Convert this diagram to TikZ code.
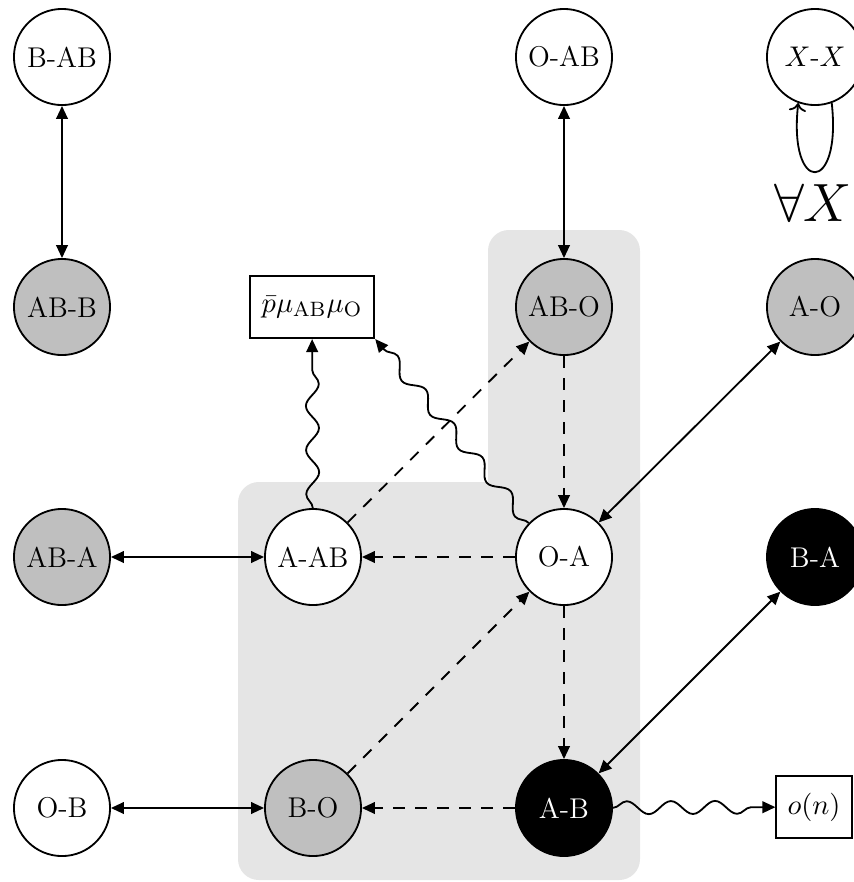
\documentclass[tikz,border=0pt]{standalone}
\usetikzlibrary{arrows.meta,decorations.pathmorphing}
\definecolor{bgg}{HTML}{E5E5E5}
\definecolor{ng}{HTML}{BFBFBF}
\begin{document}
\begin{tikzpicture}[x=0.385pt,y=-0.385pt,
  every node/.style={font=\fontsize{11}{13}\selectfont},
  st/.style={circle,draw,line width=0.7pt,minimum size=37pt,inner sep=0pt},
  wh/.style={st,fill=white},
  gr/.style={st,fill=ng},
  bk/.style={st,fill=black,text=white},
  bx/.style={draw,line width=0.7pt,fill=white,minimum height=24pt,inner xsep=3pt},
  tip/.style={line width=0.7pt,-{Triangle[length=5pt,width=4.5pt]}},
  both/.style={line width=0.7pt,{Triangle[length=5pt,width=4.5pt]}-{Triangle[length=5pt,width=4.5pt]}},
  dsh/.style={tip,dash pattern=on 4.5pt off 4pt},
  wig/.style={tip,decorate,decoration={snake,segment length=17pt,amplitude=2.5pt,post length=4pt}},
  bgbox/.style={fill=bgg,rounded corners=8pt}]
\useasboundingbox (0,0) rectangle (854,882);
% backgrounds
\fill[bgbox] (488,230) rectangle (640,620);
\fill[bgbox] (238,482) rectangle (640,880);
% nodes
\node[wh] (BAB) at (62,57) {B-AB};
\node[wh] (OAB) at (564,57) {O-AB};
\node[wh] (XX) at (815,57) {$X$-$X$};
\node[gr] (ABB) at (62,307) {AB-B};
\node[bx,minimum width=48pt] (P) at (312,307) {$\bar{p}\mu_{\mathrm{AB}}\mu_{\mathrm{O}}$};
\node[gr] (ABO) at (564,307) {AB-O};
\node[gr] (AO) at (815,307) {A-O};
\node[gr] (ABA) at (62,557) {AB-A};
\node[wh] (AAB) at (313,557) {A-AB};
\node[wh] (OA) at (564,557) {O-A};
\node[bk] (BA) at (815,557) {B-A};
\node[wh] (OB) at (62,808) {O-B};
\node[gr] (BO) at (313,808) {B-O};
\node[bk] (AB) at (564,808) {A-B};
\node[bx,minimum width=29pt] (ON) at (814,807) {$o(n)$};
\node[font=\fontsize{20}{24}\selectfont] (FA) at (813,203) {$\forall X$};
% solid double arrows
\draw[both] (BAB) -- (ABB);
\draw[both] (OAB) -- (ABO);
\draw[both] (ABA) -- (AAB);
\draw[both] (OB) -- (BO);
\draw[both] (OA) -- (AO);
\draw[both] (AB) -- (BA);
% dashed
\draw[dsh] (ABO) -- (OA);
\draw[dsh] (OA) -- (AAB);
\draw[dsh] (OA) -- (AB);
\draw[dsh] (AAB) -- (ABO);
\draw[dsh] (BO) -- (OA);
\draw[dsh] (AB) -- (BO);
% wiggly
\draw[wig] (AAB) -- (P);
\draw[wig] (OA.136) -- (P.south east);
\draw[wig] (AB) -- (ON);
% loop
\draw[line width=0.7pt,->] (XX.290) .. controls (842,195) and (788,195) .. (XX.250);
\end{tikzpicture}
\end{document}
